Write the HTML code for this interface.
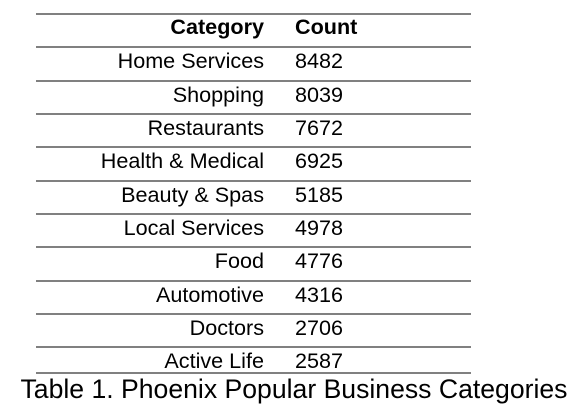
<!DOCTYPE html>
<html><head><meta charset="utf-8"><style>
body{margin:0;width:576px;height:414px;background:#fff;position:relative;overflow:hidden;font-family:"Liberation Sans",Arial,sans-serif;color:#000}
.l{position:absolute;left:36px;width:435px;height:2px;background:#808080}
.c{position:absolute;right:312px;font-size:21.6px;line-height:24px;text-align:right;white-space:nowrap}
.n{position:absolute;left:295px;font-size:21.6px;line-height:24px;white-space:nowrap}
.h{font-weight:bold}
#cap{position:absolute;left:0;width:588px;text-align:center;top:374px;font-size:26.6px;line-height:30px;white-space:nowrap}
</style></head><body>
<div id="t"></div>
<div id="cap">Table 1. Phoenix Popular Business Categories</div>
<script>
const categories=["Home Services","Shopping","Restaurants","Health & Medical","Beauty & Spas","Local Services","Food","Automotive","Doctors","Active Life"];
const counts=[8482,8039,7672,6925,5185,4978,4776,4316,2706,2587];
const t=document.getElementById('t');
const lines=[13,46,80,113,146,180,213,246,280,313,346,372];
lines.forEach((y,i)=>{const d=document.createElement('div');d.className='l';d.style.top=y+'px';


t.appendChild(d);});
function cell(cls,txt,top){const d=document.createElement('div');d.className=cls;d.textContent=txt;d.style.top=top+'px';t.appendChild(d);return d;}
let h1=cell('c h','Category',15);


let h2=cell('n h','Count',15);


categories.forEach((c,i)=>{const top=lines[i+1]+3;
const a=cell('c',c,top);


const b=cell('n',String(counts[i]),top);

});
</script>
</body></html>
